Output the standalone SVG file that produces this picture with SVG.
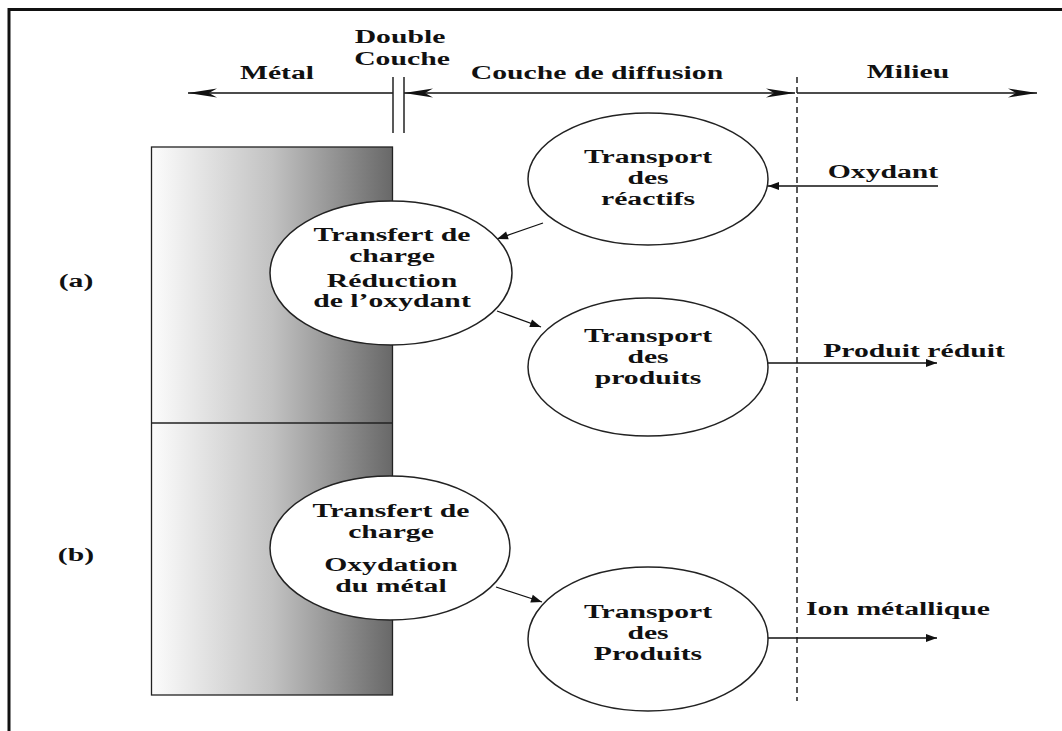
<svg xmlns="http://www.w3.org/2000/svg" width="1062" height="731" viewBox="0 0 1062 731">
  <style>
    .t { font-family: "Liberation Serif", "Times New Roman", serif; font-weight: bold; font-size: 18px; fill: #111; text-anchor: middle; }
    .node { fill: #fff; stroke: #222; stroke-width: 1.5; }
    .axis { stroke: #111; stroke-width: 1.3; fill: none; }
    .link { stroke: #111; stroke-width: 1.3; fill: none; marker-end: url(#tri); }
    .frame { stroke: #111; stroke-width: 3; fill: none; }
  </style>
  <defs>
    <linearGradient id="metalShade" x1="0" y1="0" x2="1" y2="0">
      <stop offset="0" stop-color="#fcfcfc"/>
      <stop offset="0.5" stop-color="#c2c2c2"/>
      <stop offset="1" stop-color="#686868"/>
    </linearGradient>
    <marker id="barb" markerUnits="userSpaceOnUse" markerWidth="40" markerHeight="12" viewBox="-30 -6 32 12" refX="0" refY="0" orient="auto-start-reverse">
      <path d="M0,0 L-29,-4.5 L-21,0 L-29,4.5 Z" fill="#111"/>
    </marker>
    <marker id="tri" markerUnits="userSpaceOnUse" markerWidth="14" markerHeight="10" viewBox="-12 -5 13 10" refX="0" refY="0" orient="auto">
      <path d="M0,0 L-11,-4 L-11,4 Z" fill="#111"/>
    </marker>
  </defs>

  <!-- frame -->
  <path class="frame" d="M9,731 L9,9.5 L1062,9.5"/>

  <!-- metal electrode -->
  <g id="metal">
    <rect x="151.5" y="147" width="241" height="548" fill="url(#metalShade)" stroke="#222" stroke-width="1.3"/>
    <line x1="151.5" y1="423" x2="392.5" y2="423" stroke="#222" stroke-width="1.3"/>
  </g>

  <!-- zone labels -->
  <g id="zones">
    <text class="t" transform="translate(400,43) scale(1.65,1)">Double</text>
    <text class="t" transform="translate(402,65) scale(1.65,1)">Couche</text>
    <text class="t" transform="translate(277,79) scale(1.65,1)">Métal</text>
    <text class="t" transform="translate(597,79) scale(1.65,1)">Couche de diffusion</text>
    <text class="t" transform="translate(908,78) scale(1.65,1)">Milieu</text>
    <text class="t" transform="translate(76,287) scale(1.65,1)">(a)</text>
    <text class="t" transform="translate(76,561) scale(1.65,1)">(b)</text>
  </g>

  <g id="connectors">
    <!-- top axis -->
    <line class="axis" x1="393" y1="93" x2="188" y2="93" marker-end="url(#barb)"/>
    <line class="axis" x1="404" y1="93" x2="795" y2="93" marker-start="url(#barb)" marker-end="url(#barb)"/>
    <line class="axis" x1="797" y1="93" x2="1037" y2="93" marker-end="url(#barb)"/>
    <!-- double layer -->
    <line x1="393" y1="77" x2="393" y2="133" stroke="#222" stroke-width="1.5"/>
    <line x1="404" y1="77" x2="404" y2="133" stroke="#222" stroke-width="1.5"/>
    <!-- diffusion / bulk boundary -->
    <line x1="797" y1="77" x2="797" y2="701" stroke="#222" stroke-width="1.5" stroke-dasharray="6 4"/>
    <!-- process arrows -->
    <line class="link" x1="938" y1="186" x2="768" y2="186"/>
    <line class="link" x1="543" y1="223" x2="497" y2="239"/>
    <line class="link" x1="497" y1="311" x2="541" y2="327"/>
    <line class="link" x1="768" y1="363" x2="937" y2="363"/>
    <line class="link" x1="496" y1="587" x2="542" y2="602"/>
    <line class="link" x1="768" y1="638" x2="937" y2="638"/>
  </g>

  <g id="flow-labels">
    <text class="t" transform="translate(883,178) scale(1.65,1)">Oxydant</text>
    <text class="t" transform="translate(914,357) scale(1.65,1)">Produit réduit</text>
    <text class="t" transform="translate(898,615) scale(1.65,1)">Ion métallique</text>
  </g>

  <g id="transport-reactifs">
    <ellipse class="node" cx="648" cy="179" rx="120" ry="66"/>
    <text class="t" transform="translate(648,163) scale(1.65,1)">Transport</text>
    <text class="t" transform="translate(648,184) scale(1.65,1)">des</text>
    <text class="t" transform="translate(648,205) scale(1.65,1)">réactifs</text>
  </g>

  <g id="transfert-reduction">
    <ellipse class="node" cx="391" cy="273" rx="121" ry="72"/>
    <text class="t" transform="translate(392,241) scale(1.65,1)">Transfert de</text>
    <text class="t" transform="translate(392,262) scale(1.65,1)">charge</text>
    <text class="t" transform="translate(392,287) scale(1.65,1)">Réduction</text>
    <text class="t" transform="translate(392,307) scale(1.65,1)">de l’oxydant</text>
  </g>

  <g id="transport-produits-a">
    <ellipse class="node" cx="648" cy="367" rx="120" ry="69"/>
    <text class="t" transform="translate(648,342) scale(1.65,1)">Transport</text>
    <text class="t" transform="translate(648,363) scale(1.65,1)">des</text>
    <text class="t" transform="translate(648,384) scale(1.65,1)">produits</text>
  </g>

  <g id="transfert-oxydation">
    <ellipse class="node" cx="390" cy="548" rx="120" ry="72"/>
    <text class="t" transform="translate(391,517) scale(1.65,1)">Transfert de</text>
    <text class="t" transform="translate(391,538) scale(1.65,1)">charge</text>
    <text class="t" transform="translate(391,571) scale(1.65,1)">Oxydation</text>
    <text class="t" transform="translate(391,592) scale(1.65,1)">du métal</text>
  </g>

  <g id="transport-produits-b">
    <ellipse class="node" cx="648" cy="639" rx="120" ry="72"/>
    <text class="t" transform="translate(648,618) scale(1.65,1)">Transport</text>
    <text class="t" transform="translate(648,639) scale(1.65,1)">des</text>
    <text class="t" transform="translate(648,660) scale(1.65,1)">Produits</text>
  </g>
</svg>
